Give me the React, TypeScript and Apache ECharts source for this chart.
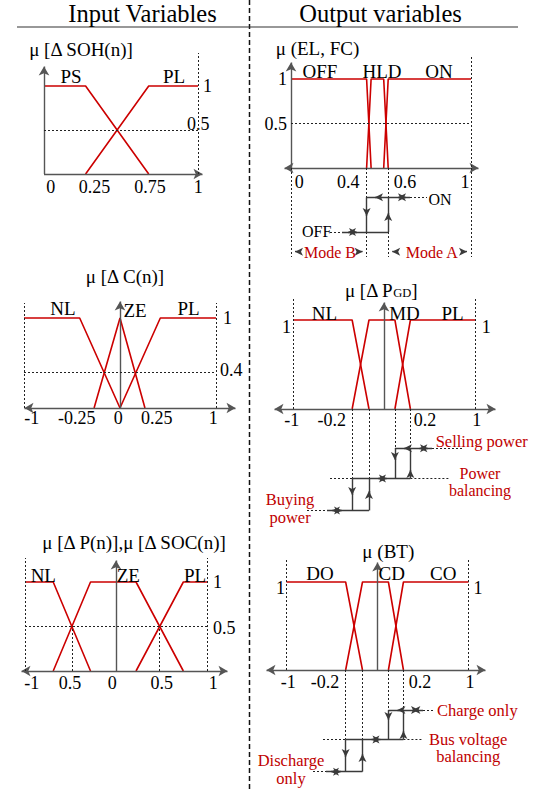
import React, { useEffect, useRef } from 'react';
import * as echarts from 'echarts';

const SERIF = "'Liberation Serif', 'Times New Roman', Times, serif";
const RED = '#cc0000';
const RED_TEXT = '#c00000';
const INK = '#000000';

type Pt = [number, number];

// ---------------- data ----------------
// Panel 1: mu[ΔSOH(n)]
const sohTicks = [0, 0.25, 0.75, 1];
const sohTickText = ['0', '0.25', '0.75', '1'];
const sohYTicks = [0.5, 1];
const sohYText = ['0.5', '1'];
const sohPS: Pt[] = [[0, 1], [0.27, 1], [0.68, 0]];
const sohPL: Pt[] = [[0.27, 0], [0.68, 1], [1, 1]];

// Panel 2: mu(EL, FC)
const elTicks = [0, 0.4, 0.6, 1];
const elTickText = ['0', '0.4', '0.6', '1'];
const elYTicks = [0.5, 1];
const elYText = ['0.5', '1'];
const elOFF: Pt[] = [[0, 1], [0.42, 1], [0.445, 0]];
const elHLD: Pt[] = [[0.42, 0], [0.445, 1], [0.515, 1], [0.54, 0]];
const elON: Pt[] = [[0.515, 0], [0.54, 1], [1, 1]];
const elSwitch = [0.42, 0.54];
const elStepLevels = [-0.33, -0.72]; // ON level, OFF level
const elModeLevel = -0.94;

// Panel 3: mu[ΔC(n)]
const cTicks = [-1, -0.25, 0, 0.25, 1];
const cTickText = ['-1', '-0.25', '0', '0.25', '1'];
const cYTicks = [0.4, 1];
const cYText = ['0.4', '1'];
const cNL: Pt[] = [[-1, 1], [-0.42, 1], [0, 0]];
const cZE: Pt[] = [[-0.27, 0], [0, 1], [0.26, 0]];
const cPL: Pt[] = [[0, 0], [0.42, 1], [1, 1]];

// Panel 4: mu[ΔP_GD]
const gdTicks = [-1, -0.2, 0.2, 1];
const gdTickText = ['-1', '-0.2', '0.2', '1'];
const gdYTicks = [1];
const gdYText = ['1'];
const gdNL: Pt[] = [[-1, 1], [-0.35, 1], [-0.165, 0]];
const gdMD: Pt[] = [[-0.35, 0], [-0.165, 1], [0.12, 1], [0.29, 0]];
const gdPL: Pt[] = [[0.12, 0], [0.29, 1], [1, 1]];
const gdBreaks = [-0.35, -0.165, 0.12, 0.29];
const gdStepLevels = [-0.44, -0.78, -1.14]; // selling, balancing, buying

// Panel 5: mu[ΔP(n)], mu[ΔSOC(n)]
const pTicks = [-1, -0.5, 0, 0.5, 1];
const pTickText = ['-1', '0.5', '0', '0.5', '1'];
const pYTicks = [0.5, 1];
const pYText = ['0.5', '1'];
const pNL: Pt[] = [[-1, 1], [-0.69, 1], [-0.28, 0]];
const pZE: Pt[] = [[-0.69, 0], [-0.28, 1], [0.22, 1], [0.74, 0]];
const pPL: Pt[] = [[0.22, 0], [0.74, 1], [1, 1]];
const pCross = [-0.485, 0.48];

// Panel 6: mu(BT)
const btTicks = [-1, -0.2, 0.2, 1];
const btTickText = ['-1', '-0.2', '0.2', '1'];
const btYTicks = [1];
const btYText = ['1'];
const btDO: Pt[] = [[-1, 1], [-0.35, 1], [-0.165, 0]];
const btCD: Pt[] = [[-0.35, 0], [-0.165, 1], [0.12, 1], [0.285, 0]];
const btCO: Pt[] = [[0.12, 0], [0.285, 1], [1, 1]];
const btBreaks = [-0.35, -0.165, 0.12, 0.285];
const btStepLevels = [-0.455, -0.79, -1.155]; // charge only, bus balancing, discharge only

// ---------------- layout ----------------
interface Layout { x0: number; xu: number; y0: number; yu: number; left: number; right: number; top: number; bottom: number; }
const lay1: Layout = { x0: 44, xu: 154, y0: 174, yu: 88, left: 44, right: 207, top: 50, bottom: 174 };
const lay2: Layout = { x0: 291, xu: 180, y0: 168, yu: 89, left: 280, right: 483, top: 55, bottom: 168 };
const lay3: Layout = { x0: 120, xu: 96, y0: 408, yu: 90, left: 20, right: 240, top: 295, bottom: 408 };
const lay4: Layout = { x0: 384, xu: 91, y0: 409, yu: 89, left: 270, right: 500, top: 295, bottom: 409 };
const lay5: Layout = { x0: 116, xu: 91, y0: 671, yu: 89, left: 17, right: 232, top: 552, bottom: 671 };
const lay6: Layout = { x0: 377.5, xu: 91, y0: 670, yu: 88, left: 262, right: 490, top: 555, bottom: 670 };
// step-diagram areas right below panels 2, 4 and 6 (same scales, y < 0)
const lay2b: Layout = { ...lay2, top: 168, bottom: 262 };
const lay4b: Layout = { ...lay4, top: 409, bottom: 522 };
const lay6b: Layout = { ...lay6, top: 670, bottom: 785 };
const LAYOUTS = [lay1, lay2, lay3, lay4, lay5, lay6, lay2b, lay4b, lay6b];

const ux = (L: Layout, px: number) => (px - L.x0) / L.xu;
const uy = (L: Layout, py: number) => (L.y0 - py) / L.yu;
const ext = (L: Layout) => ({
  xmin: (L.left - L.x0) / L.xu,
  xmax: (L.right - L.x0) / L.xu,
  ymin: (L.y0 - L.bottom) / L.yu,
  ymax: (L.y0 - L.top) / L.yu,
});

const AXIS = { color: '#555555', width: 1.4, type: 'solid' };
const STEP = { color: '#3a3a3a', width: 1.4, type: 'solid' };
const DOT = { color: '#222222', width: 1, type: [2, 2] };

function line(a: Pt, b: Pt, style: any) {
  return [{ coord: a, symbol: 'none', lineStyle: style }, { coord: b, symbol: 'none' }];
}

function arrow(L: Layout, from: Pt, tip: Pt, style: any, len = 8, w = 6, both = false) {
  const dx = (tip[0] - from[0]) * L.xu;
  const dy = (tip[1] - from[1]) * L.yu;
  const n = Math.hypot(dx, dy) || 1;
  const ex = dx / n, ey = dy / n;
  const h = len / 2;
  const end: Pt = [tip[0] - (ex * h) / L.xu, tip[1] - (ey * h) / L.yu];
  const start: Pt = both ? [from[0] + (ex * h) / L.xu, from[1] + (ey * h) / L.yu] : from;
  return [
    { coord: start, symbol: both ? 'arrow' : 'none', symbolSize: [w, len], lineStyle: style },
    { coord: end, symbol: 'arrow', symbolSize: [w, len] },
  ];
}

function head(L: Layout, tip: Pt, dir: 'l' | 'r' | 'u' | 'd') {
  const d = 7;
  const from: Pt =
    dir === 'l' ? [tip[0] + d / L.xu, tip[1]] :
    dir === 'r' ? [tip[0] - d / L.xu, tip[1]] :
    dir === 'u' ? [tip[0], tip[1] - d / L.yu] :
    [tip[0], tip[1] + d / L.yu];
  return arrow(L, from, tip, STEP, 8, 6);
}

function axes(L: Layout, tipL: number | null, tipR: number, tipTop: number) {
  const xa = tipL === null
    ? arrow(L, [0, 0], [ux(L, tipR), 0], AXIS, 9, 8)
    : arrow(L, [ux(L, tipL), 0], [ux(L, tipR), 0], AXIS, 9, 8, true);
  const ya = arrow(L, [0, 0], [0, uy(L, tipTop)], AXIS, 9, 8);
  return [xa, ya];
}

function nearest(arr: number[], v: number) {
  let k = 0, d = Infinity;
  arr.forEach((a, i) => { const dd = Math.abs(a - v); if (dd < d) { d = dd; k = i; } });
  return k;
}

function xLabel(ticks: number[], texts: string[], dx: number[], margin: number) {
  const rich: any = {};
  texts.forEach((_, i) => {
    const n = dx[i];
    rich['t' + i] = { fontSize: 18, fontFamily: SERIF, color: INK, padding: n >= 0 ? [0, 0, 0, 2 * n] : [0, -2 * n, 0, 0] };
  });
  return {
    show: true, customValues: ticks, margin, fontSize: 18, fontFamily: SERIF, color: INK, rich,
    formatter: (v: number) => { const k = nearest(ticks, v); return `{t${k}|${texts[k]}}`; },
  };
}

function yLabel(ticks: number[], texts: string[], pads: number[][], margin: number) {
  const rich: any = {};
  texts.forEach((_, i) => {
    rich['t' + i] = { fontSize: 18, fontFamily: SERIF, color: INK, padding: pads[i] };
  });
  return {
    show: true, customValues: ticks, margin, fontSize: 18, fontFamily: SERIF, color: INK, rich,
    formatter: (v: number) => { const k = nearest(ticks, v); return `{t${k}|${texts[k]}}`; },
  };
}

function xAx(i: number, L: Layout, ticks: number[], texts: string[], dx: number[], margin: number) {
  const e = ext(L);
  return {
    type: 'value', gridIndex: i, min: e.xmin, max: e.xmax, position: 'bottom',
    axisLine: { show: false, onZero: false }, axisTick: { show: false }, splitLine: { show: false },
    axisLabel: xLabel(ticks, texts, dx, margin),
  };
}

function yAx(i: number, L: Layout, pos: string, ticks: number[], texts: string[], pads: number[][], margin: number) {
  const e = ext(L);
  return {
    type: 'value', gridIndex: i, min: e.ymin, max: e.ymax, position: pos,
    axisLine: { show: false, onZero: false }, axisTick: { show: false }, splitLine: { show: false },
    axisLabel: yLabel(ticks, texts, pads, margin),
  };
}

function hiddenX(i: number, L: Layout) {
  const e = ext(L);
  return { type: 'value', gridIndex: i, min: e.xmin, max: e.xmax, show: false, axisLine: { onZero: false } };
}
function hiddenY(i: number, L: Layout) {
  const e = ext(L);
  return { type: 'value', gridIndex: i, min: e.ymin, max: e.ymax, show: false, axisLine: { onZero: false } };
}

// xAxis index = grid index; yAxis index per grid:
const Y_IDX = [0, 1, 2, 3, 5, 6, 8, 9, 10];

function mf(g: number, name: string, data: Pt[]) {
  return {
    type: 'line', name, xAxisIndex: g, yAxisIndex: Y_IDX[g], data,
    symbol: 'none', showSymbol: false, clip: false, silent: true, z: 3,
    lineStyle: { color: RED, width: 1.6 }, emphasis: { disabled: true },
  };
}

function overlay(g: number, segs: any[]) {
  return {
    type: 'line', xAxisIndex: g, yAxisIndex: Y_IDX[g], data: [], symbol: 'none', silent: true, z: 2,
    markLine: {
      silent: true, animation: false, symbol: ['none', 'none'], label: { show: false },
      emphasis: { disabled: true }, lineStyle: STEP, data: segs,
    },
  };
}

function txt(text: string, x: number, y: number, size: number, fill = INK, lh?: number) {
  return {
    type: 'text', x, y, z: 50, silent: true,
    style: {
      text, fill, font: `${size}px ${SERIF}`, lineHeight: lh,
      align: 'center', verticalAlign: 'middle', textAlign: 'center', textVerticalAlign: 'middle',
    },
  };
}

function stepSegs(L: Layout, b: number[], lv: number[], px: any) {
  const [b0, b1, b2, b3] = b;
  const [l0, l1, l2] = lv;
  return [
    line([b0, 0], [b0, l1], DOT),
    line([b1, 0], [b1, l1], DOT),
    line([b2, 0], [b2, l0], DOT),
    line([b3, 0], [b3, l0], DOT),
    // upper level
    line([b2, l0], [ux(L, px.upEnd), l0], STEP),
    line([ux(L, px.upEnd), l0], [ux(L, px.upDot), l0], DOT),
    // middle level
    line([ux(L, px.midDotL), l1], [b0, l1], DOT),
    line([b0, l1], [b3, l1], STEP),
    line([b3, l1], [ux(L, px.midDotR), l1], DOT),
    // lower level
    line([ux(L, px.lowDot), l2], [ux(L, px.lowStart), l2], DOT),
    line([ux(L, px.lowStart), l2], [b1, l2], STEP),
    // verticals
    line([b2, l0], [b2, l1], STEP),
    line([b3, l1], [b3, l0], STEP),
    line([b0, l1], [b0, l2], STEP),
    line([b1, l2], [b1, l1], STEP),
    // arrow heads
    head(L, [b2 + 5 / L.xu, l0], 'l'),
    head(L, [b3 + 5 / L.xu, l0], 'l'),
    head(L, [ux(L, px.upEnd), l0], 'r'),
    head(L, [b1 + 5 / L.xu, l1], 'l'),
    head(L, [b2 - 4 / L.xu, l1], 'r'),
    head(L, [ux(L, px.lowStart + 1), l2], 'l'),
    head(L, [ux(L, px.lowStart + 19), l2], 'r'),
    head(L, [b2, uy(L, px.vDown0)], 'd'),
    head(L, [b3, uy(L, px.vUp0)], 'u'),
    head(L, [b0, uy(L, px.vDown1)], 'd'),
    head(L, [b1, uy(L, px.vUp1)], 'u'),
  ];
}

function buildOption() {
  const grid = LAYOUTS.map((L) => ({
    left: L.left, top: L.top, width: L.right - L.left, height: L.bottom - L.top,
    containLabel: false, outerBoundsMode: 'none',
  }));

  const xAxis = [
    xAx(0, lay1, sohTicks, sohTickText, [6.7, 12, -9.5, 0.3], 3.7),
    xAx(1, lay2, elTicks, elTickText, [8.3, -14.7, 6, -6], 4.7),
    xAx(2, lay3, cTicks, cTickText, [7.7, -19.3, -1.7, 12.7, -2.7], 1.3),
    xAx(3, lay4, gdTicks, gdTickText, [-1.3, -34.1, 22.8, 1.7], 2),
    xAx(4, lay5, pTicks, pTickText, [6.7, -0.5, -3.7, 0.2, 6.3], 3.3),
    xAx(5, lay6, btTicks, btTickText, [1.8, -34.3, 24.3, 1.5], 2.7),
    hiddenX(6, lay2b), hiddenX(7, lay4b), hiddenX(8, lay6b),
  ];

  const yAxis = [
    yAx(0, lay1, 'right', sohYTicks, sohYText, [[0, 0, 12, 0], [0, 0, 0, 16]], -20),
    yAx(1, lay2, 'left', elYTicks, elYText, [[0, 0, 0, 0], [0, 0, 0, 0]], -7),
    yAx(2, lay3, 'right', cYTicks, cYText, [[0, 0, 4, 0], [0, 0, 0, 3]], -20),
    yAx(3, lay4, 'left', gdYTicks, gdYText, [[13, 0, 0, 0]], -21),
    yAx(3, lay4, 'right', gdYTicks, gdYText, [[13, 0, 0, 0]], -18.3),
    yAx(4, lay5, 'right', pYTicks, pYText, [[3, 0, 0, 0], [0, 0, 0, 0]], -19),
    yAx(5, lay6, 'left', btYTicks, btYText, [[12.6, 0, 0, 0]], -23),
    yAx(5, lay6, 'right', btYTicks, btYText, [[12.6, 0, 0, 0]], -16.5),
    hiddenY(6, lay2b), hiddenY(7, lay4b), hiddenY(8, lay6b),
  ];

  // panel 1
  const seg1 = [
    ...axes(lay1, null, 207, 62),
    line([0, 0.5], [1, 0.5], DOT),
    line([1, 0], [1, uy(lay1, 53)], DOT),
  ];

  // panel 2 (plot part)
  const seg2 = [
    ...axes(lay2, 280, 483, 58),
    line([0, 0.5], [1, 0.5], DOT),
    line([1, uy(lay2, 57)], [1, 0], DOT),
  ];
  // panel 2 (switching diagram)
  const [s0, s1] = elSwitch;
  const [lOn, lOff] = elStepLevels;
  const M = elModeLevel;
  const L2 = lay2b;
  const bot2 = uy(L2, 257);
  const seg2b = [
    line([1, 0], [1, bot2], DOT),
    line([0, 0], [0, bot2], DOT),
    line([s0, 0], [s0, bot2], DOT),
    line([s1, 0], [s1, bot2], DOT),
    line([s0, lOn], [ux(L2, 410), lOn], STEP),
    line([ux(L2, 410), lOn], [ux(L2, 427), lOn], DOT),
    line([ux(L2, 330), lOff], [ux(L2, 342), lOff], DOT),
    line([ux(L2, 342), lOff], [s1, lOff], STEP),
    line([s0, lOn], [s0, lOff], STEP),
    line([s1, lOff], [s1, lOn], STEP),
    head(L2, [ux(L2, 371), lOn], 'l'),
    head(L2, [ux(L2, 394), lOn], 'l'),
    head(L2, [ux(L2, 410), lOn], 'r'),
    head(L2, [ux(L2, 344), lOff], 'l'),
    head(L2, [ux(L2, 361), lOff], 'r'),
    head(L2, [s0, uy(L2, 220)], 'd'),
    head(L2, [s1, uy(L2, 209)], 'u'),
    arrow(L2, [ux(L2, 299), M], [0, M], STEP, 8, 6),
    arrow(L2, [ux(L2, 357), M], [s0, M], STEP, 8, 6),
    arrow(L2, [ux(L2, 397), M], [s1, M], STEP, 8, 6),
    arrow(L2, [ux(L2, 462), M], [1, M], STEP, 8, 6),
  ];

  // panel 3
  const seg3 = [
    ...axes(lay3, 20, 240, 297),
    line([-1, 0.4], [1, 0.4], DOT),
    line([-1, 0], [-1, uy(lay3, 303)], DOT),
    line([1, 0], [1, uy(lay3, 303)], DOT),
  ];

  // panel 4
  const seg4 = [
    ...axes(lay4, 270, 500, 298),
    line([-1, 0], [-1, uy(lay4, 299)], DOT),
    line([1, 0], [1, uy(lay4, 299)], DOT),
  ];
  const seg4b = stepSegs(lay4b, gdBreaks, gdStepLevels, {
    upEnd: 432, upDot: 463, midDotL: 330, midDotR: 450, lowDot: 307, lowStart: 327,
    vDown0: 464, vUp0: 466, vDown1: 499, vUp1: 487,
  });

  // panel 5
  const seg5 = [
    ...axes(lay5, 17, 232, 556),
    line([-1, 0.5], [1, 0.5], DOT),
    line([-1, 0], [-1, uy(lay5, 558)], DOT),
    line([1, 0], [1, uy(lay5, 558)], DOT),
    line([pCross[0], 0], [pCross[0], 0.5], DOT),
    line([pCross[1], 0], [pCross[1], 0.5], DOT),
  ];

  // panel 6
  const seg6 = [
    ...axes(lay6, 262, 490, 558),
    line([-1, 0], [-1, uy(lay6, 560)], DOT),
    line([1, 0], [1, uy(lay6, 560)], DOT),
  ];
  const seg6b = stepSegs(lay6b, btBreaks, btStepLevels, {
    upEnd: 423, upDot: 435, midDotL: 323, midDotR: 423, lowDot: 313, lowStart: 326,
    vDown0: 724, vUp0: 727, vDown1: 761, vUp1: 750,
  });

  const series = [
    mf(0, 'PS', sohPS), mf(0, 'PL', sohPL), overlay(0, seg1),
    mf(1, 'OFF', elOFF), mf(1, 'HLD', elHLD), mf(1, 'ON', elON), overlay(1, seg2), overlay(6, seg2b),
    mf(2, 'NL', cNL), mf(2, 'ZE', cZE), mf(2, 'PL', cPL), overlay(2, seg3),
    mf(3, 'NL', gdNL), mf(3, 'MD', gdMD), mf(3, 'PL', gdPL), overlay(3, seg4), overlay(7, seg4b),
    mf(4, 'NL', pNL), mf(4, 'ZE', pZE), mf(4, 'PL', pPL), overlay(4, seg5),
    mf(5, 'DO', btDO), mf(5, 'CD', btCD), mf(5, 'CO', btCO), overlay(5, seg6), overlay(8, seg6b),
  ];

  const graphic: any[] = [
    { type: 'line', silent: true, z: 40, shape: { x1: 249.5, y1: 0, x2: 249.5, y2: 791 }, style: { stroke: '#111', lineWidth: 1.5, lineDash: [5, 3] } },
    { type: 'line', silent: true, z: 40, shape: { x1: 17, y1: 27, x2: 518, y2: 27 }, style: { stroke: '#333', lineWidth: 1.2 } },
    txt('Input Variables', 142.5, 13, 24.5),
    txt('Output variables', 380.5, 13, 24.5),
    // titles
    txt('μ [Δ SOH(n)]', 81, 49, 19),
    txt('μ (EL, FC)', 317.5, 48.6, 19),
    txt('μ [Δ C(n)]', 125, 276, 19),
    {
      type: 'text', x: 381, y: 290, z: 50, silent: true,
      style: {
        text: '{a|μ [Δ P}{s|GD}{a|]}', fill: INK,
        align: 'center', verticalAlign: 'middle', textAlign: 'center', textVerticalAlign: 'middle',
        rich: {
          a: { fontSize: 19, fontFamily: SERIF, fill: INK, color: INK },
          s: { fontSize: 12.5, fontFamily: SERIF, fill: INK, color: INK, padding: [5, 0, 0, 0] },
        },
      },
    },
    txt('μ [Δ P(n)],μ [Δ SOC(n)]', 134, 542, 19),
    txt('μ (BT)', 388.3, 551.7, 19),
    // membership names
    txt('PS', 71, 76.7, 19), txt('PL', 174, 76.7, 19),
    txt('OFF', 320, 71.7, 19), txt('HLD', 382, 71.7, 19), txt('ON', 439, 71.7, 19),
    txt('NL', 63, 308, 19), txt('ZE', 135, 310, 19), txt('PL', 188.5, 308, 19),
    txt('NL', 324.5, 313.3, 19), txt('MD', 404.5, 313.3, 19), txt('PL', 452.5, 313.3, 19),
    txt('NL', 43.3, 575, 19), txt('ZE', 128.3, 575, 19), txt('PL', 195, 575, 19),
    txt('DO', 320, 573.3, 19), txt('CD', 391.7, 573.3, 19), txt('CO', 443.3, 573.3, 19),
    // annotations panel 2
    txt('ON', 440, 199.3, 16), txt('OFF', 316.7, 231.7, 16),
    txt('Mode B', 330, 252, 16, RED_TEXT), txt('Mode A', 431.7, 252, 16, RED_TEXT),
    // annotations panel 4
    txt('Selling power', 481.7, 441.7, 16.5, RED_TEXT),
    txt('Power\nbalancing', 480, 482, 16, RED_TEXT, 17.5),
    txt('Buying\npower', 290, 508.7, 16.5, RED_TEXT, 17.5),
    // annotations panel 6
    txt('Charge only', 477.3, 710, 16.5, RED_TEXT),
    txt('Bus voltage\nbalancing', 468.2, 748, 16.5, RED_TEXT, 17.5),
    txt('Discharge\nonly', 291, 769.2, 16.5, RED_TEXT, 18.3),
  ];

  return {
    animation: false,
    backgroundColor: '#ffffff',
    textStyle: { fontFamily: SERIF },
    grid, xAxis, yAxis, series, graphic,
  };
}

export default function App() {
  const ref = useRef<HTMLDivElement>(null);
  useEffect(() => {
    if (!ref.current) return;
    const chart = echarts.init(ref.current, undefined, { renderer: 'svg' });
    chart.setOption(buildOption() as any);
    return () => chart.dispose();
  }, []);
  return <div ref={ref} style={{ position: 'absolute', left: 0, top: 0, width: 547, height: 791 }} />;
}
